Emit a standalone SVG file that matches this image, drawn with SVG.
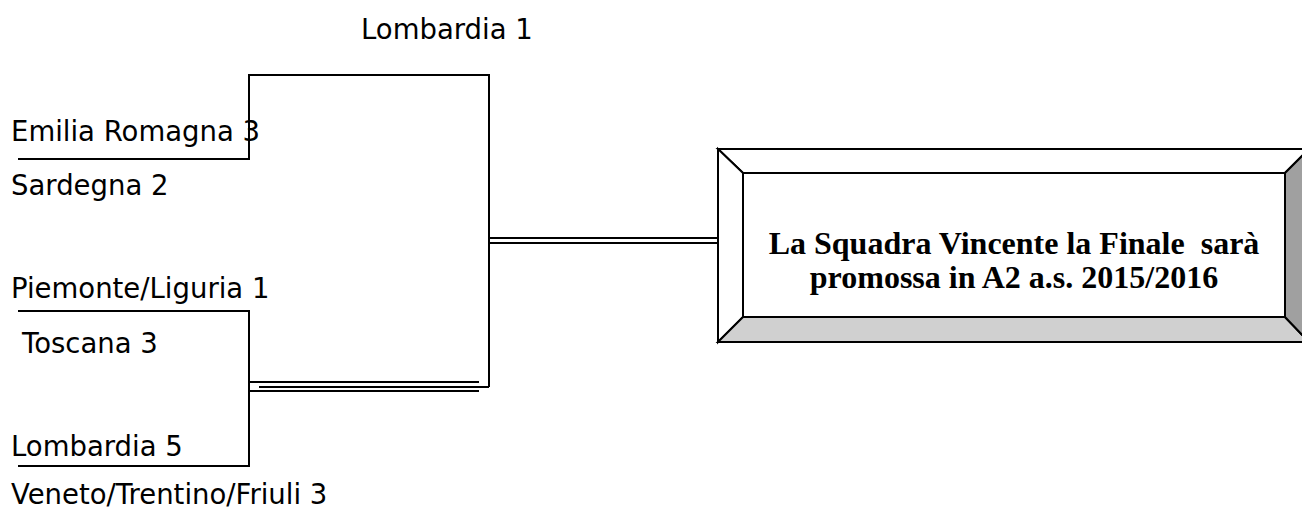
<svg xmlns="http://www.w3.org/2000/svg" width="1302" height="515" viewBox="0 0 1302 515">
<style>
.t{font-family:"DejaVu Sans",Verdana,sans-serif;font-size:27.5px;fill:#000}
.b{font-family:"Liberation Serif","Times New Roman",serif;font-size:32px;font-weight:bold;fill:#000;text-anchor:middle;white-space:pre}
.ln{stroke:#000;stroke-width:2;fill:none}
.bev{stroke:#000;stroke-width:2;stroke-linejoin:miter}
</style>
<rect width="1302" height="515" fill="#fff"/>
<g id="connectors">
<polyline class="ln" points="18,159 249,159 249,75 489,75 489,387"/>
<polyline class="ln" points="18,311 249,311 249,466 18,466"/>
<line class="ln" x1="249" y1="382" x2="479" y2="382"/>
<line class="ln" x1="259" y1="387" x2="489" y2="387"/>
<line class="ln" x1="249" y1="391" x2="479" y2="391"/>
<line class="ln" x1="489" y1="238" x2="718" y2="238"/>
<line class="ln" x1="489" y1="243" x2="718" y2="243"/>
</g>
<g id="team-lombardia1"><text class="t" x="361" y="39">Lombardia 1</text></g>
<g id="team-emilia"><text class="t" x="11" y="141">Emilia Romagna 3</text></g>
<g id="team-sardegna"><text class="t" x="11" y="195">Sardegna 2</text></g>
<g id="team-piemonte"><text class="t" x="11" y="298">Piemonte/Liguria 1</text></g>
<g id="team-toscana"><text class="t" x="22" y="353">Toscana 3</text></g>
<g id="team-lombardia5"><text class="t" x="11" y="456">Lombardia 5</text></g>
<g id="team-veneto"><text class="t" x="11" y="504">Veneto/Trentino/Friuli 3</text></g>
<g id="final-box">
<polygon class="bev" fill="#fff" points="718,149 1309,149 1285,173 743,173"/>
<polygon class="bev" fill="#fff" points="718,149 743,173 743,317 718,342"/>
<polygon class="bev" fill="#d0d0d0" points="718,342 743,317 1285,317 1309,342"/>
<polygon class="bev" fill="#a0a0a0" points="1285,173 1309,149 1309,342 1285,317"/>
<rect class="bev" fill="#fff" x="743" y="173" width="542" height="144"/>
<text class="b" x="1014" y="254" xml:space="preserve">La Squadra Vincente la Finale  sarà</text>
<text class="b" x="1014" y="288">promossa in A2 a.s. 2015/2016</text>
</g>
</svg>
